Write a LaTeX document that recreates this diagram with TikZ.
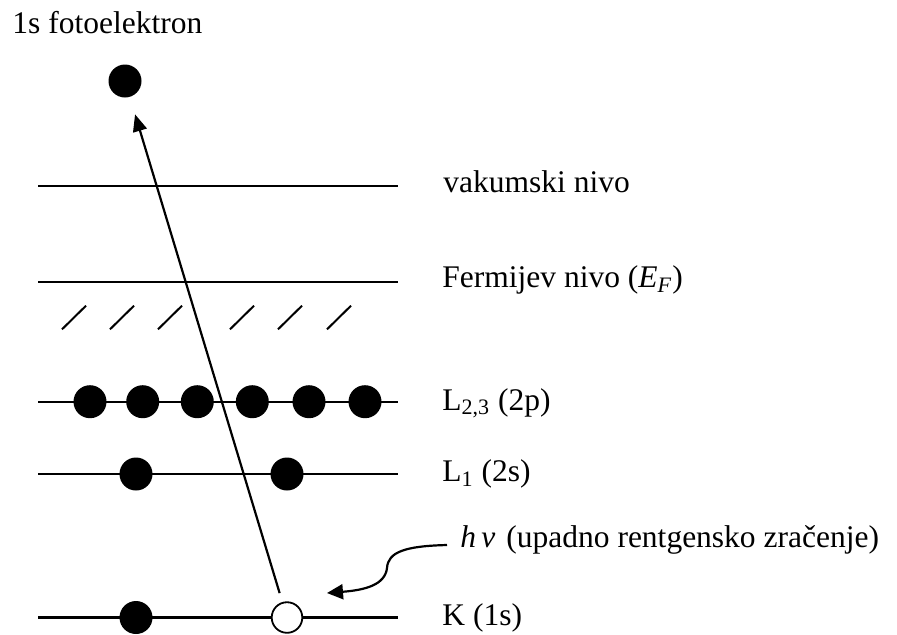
\documentclass[tikz,border=0pt]{standalone}
\usepackage{fontspec}
\setmainfont{Liberation Serif}
\usetikzlibrary{arrows.meta}
\begin{document}
\begin{tikzpicture}[x=0.5pt,y=-0.5pt,
  lvl/.style={line width=1.15pt},
  edot/.style={circle,fill=black,minimum size=16.5pt,inner sep=0pt},
  hole/.style={circle,draw=black,line width=0.9pt,fill=white,minimum size=15.3pt,inner sep=0pt},
  hatch/.style={line width=1pt},
  lbl/.style={anchor=base west,inner sep=0pt,font=\fontsize{15.75pt}{18pt}\selectfont},
  arr/.style={line width=1.1pt,-{Triangle[length=8.5pt,width=7pt]}}]
\useasboundingbox (0,0) rectangle (897,634);
% title
\node[lbl] (title) at (12,33.3) {1s fotoelektron};
% levels
\foreach \n/\y in {vac/185.7, fer/282, ltt/401.7, lone/474, k/617.5}{
  \coordinate (\n L) at (38,\y);
  \coordinate (\n R) at (398,\y);
  \draw[lvl] (\n L) -- (\n R);
}
% hatches
\foreach \i/\x in {1/62,2/110,3/158,4/230,5/278,6/327}{
  \coordinate (hb\i) at (\x,329.3);
  \coordinate (ht\i) at (\x+24,305.7);
  \draw[hatch] (hb\i) -- (ht\i);
}
% electrons
\node[edot] (top) at (125,81) {};
\foreach \i/\x in {1/90,2/142.7,3/197.3,4/252.3,5/309,6/365}{
  \node[edot] (p\i) at (\x,401.7) {};
}
\node[edot] (s1) at (136,474) {};
\node[edot] (s2) at (287,474) {};
\node[edot] (k1) at (136,617.5) {};
\node[hole] (k2) at (287,617.5) {};
% labels
\node[lbl] (lvac) at (443,192.7) {vakumski nivo};
\node[lbl] (lfer) at (442,287.5) {Fermijev nivo (\textit{E}\textsubscript{\textit{F}})};
\node[lbl] (lltt) at (442,410) {L\textsubscript{2,3} (2p)};
\node[lbl] (llone) at (442,481.7) {L\textsubscript{1} (2s)};
\node[lbl] (lhv) at (460,547) {\textit{h}\,\textit{ν}\hspace{0.35em}(upadno rentgensko zračenje)};
\node[lbl] (lk) at (442,625) {K (1s)};
% photoelectron arrow
\draw[arr,shorten <=12.75pt,shorten >=17.4pt] (k2.center) -- (top.center);
% incoming x-ray
\coordinate (xs) at (447,545);
\coordinate (xe) at (327,593);
\draw[line width=1.1pt,-{Triangle[length=8pt,width=7.5pt]}] (xs) .. controls (405,546) and (388,552) .. (387,568) .. controls (385,585) and (365,590) .. (xe);
\end{tikzpicture}
\end{document}
